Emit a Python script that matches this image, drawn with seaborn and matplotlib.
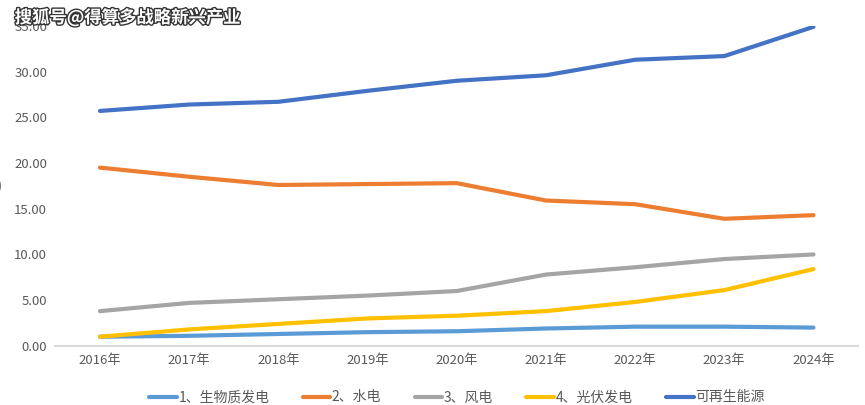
import pandas as pd
import matplotlib.pyplot as plt
import matplotlib.patheffects as pe
import seaborn as sns

years = ["2016年", "2017年", "2018年", "2019年", "2020年", "2021年", "2022年", "2023年", "2024年"]
series_names = ["1、生物质发电", "2、水电", "3、风电", "4、光伏发电", "可再生能源"]
biomass = [1.0, 1.1, 1.3, 1.5, 1.6, 1.9, 2.1, 2.1, 2.0]
hydro = [19.5, 18.5, 17.6, 17.7, 17.8, 15.9, 15.5, 13.9, 14.3]
wind = [3.8, 4.7, 5.1, 5.5, 6.0, 7.8, 8.6, 9.5, 10.0]
solar = [1.0, 1.8, 2.4, 3.0, 3.3, 3.8, 4.8, 6.1, 8.4]
renewable = [25.7, 26.4, 26.7, 27.9, 29.0, 29.6, 31.3, 31.7, 34.9]
colors = ["#5B9BD5", "#ED7D31", "#A5A5A5", "#FFC000", "#4472C4"]

rows = []
for name, vals in zip(series_names, [biomass, hydro, wind, solar, renewable]):
    for y, v in zip(years, vals):
        rows.append({"year": y, "value": v, "series": name})
df = pd.DataFrame(rows)

sns.set_style("white")
plt.rcParams["font.family"] = ["Noto Sans CJK SC", "DejaVu Sans"]

fig = plt.figure(figsize=(8.65, 4.05), dpi=100)
ax = fig.add_axes([0.064, 0.146, 0.928, 0.79])

sns.lineplot(data=df, x="year", y="value", hue="series", hue_order=series_names,
             palette=colors, linewidth=3, ax=ax, sort=False)

ax.set_xlim(-0.5, 8.5)
ax.set_ylim(0, 35)
ax.set_yticks([0, 5, 10, 15, 20, 25, 30, 35])
ax.set_yticklabels([f"{v:.2f}" for v in [0, 5, 10, 15, 20, 25, 30, 35]])
ax.set_xlabel("")
ax.set_ylabel("")
ax.tick_params(axis="both", length=0, labelsize=9.5, colors="#595959", pad=6)
for s in ["top", "right", "left"]:
    ax.spines[s].set_visible(False)
ax.spines["bottom"].set_color("#D9D9D9")
ax.spines["bottom"].set_linewidth(1.5)

ax.legend(loc="upper center", bbox_to_anchor=(0.5, -0.1), ncol=5, frameon=False,
          fontsize=10, handlelength=2.0, handletextpad=0.1, columnspacing=2.4,
          labelcolor="#595959")

fig.text(-0.004, 0.53, ")", fontsize=11, color="#404040")
fig.text(0.017, 0.957, "搜狐号@得算多战略新兴产业", fontsize=12.5, fontweight="bold",
         va="center", color="white",
         path_effects=[pe.withStroke(linewidth=2, foreground="#333333")])

fig.savefig("out.png", dpi=100)
